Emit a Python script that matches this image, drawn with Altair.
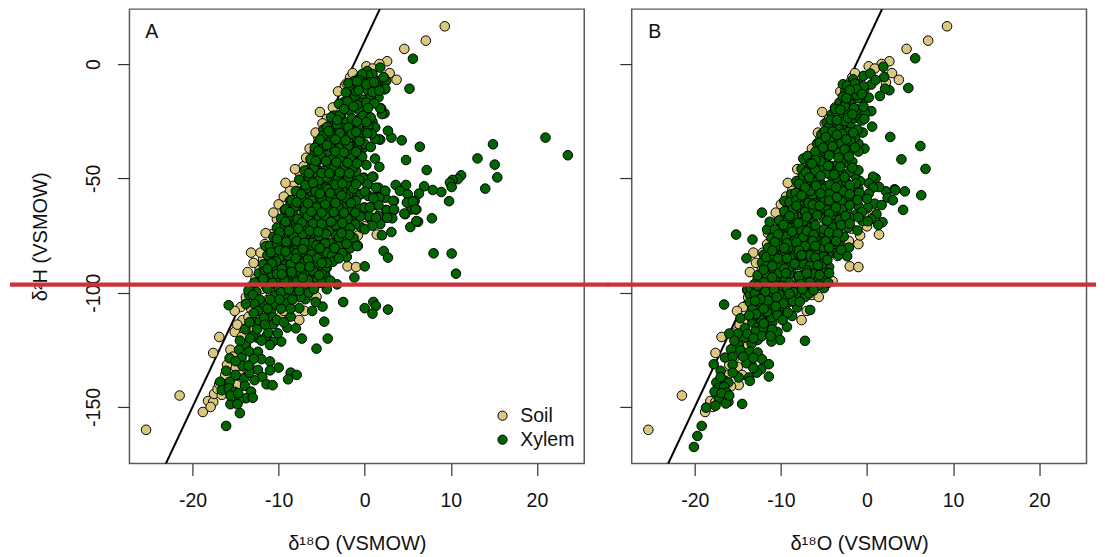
import altair as alt
import pandas as pd

FONT = "Liberation Sans"
X_TICKS = [-20, -10, 0, 10, 20]
Y_TICKS = [-150, -100, -50, 0]
X_DOMAIN = [-27.33, 25.5]
Y_DOMAIN = [-174.7, 24.0]
GMWL_X = [-30, 10]
GMWL_Y = [-230, 90]
X_TITLE = "δ¹⁸O (VSMOW)"
Y_TITLE = "δ²H (VSMOW)"
TYPES = ["Soil", "Xylem"]
COLORS = ["#DBC87F", "#006400"]

soil = [
(-25.4,-160),(-21.5,-145),(9.3,16.5),(7.1,10.2),(4.6,6.6),(2.6,1.2),(2.9,-4),(3.7,-6.9),(0.2,-1),(1.7,0),
(-1.7,-5.8),(-2.3,-9.5),(-2.1,-8.5),(-3.7,-19),(-4.4,-24),(-4.1,-27),(-4.9,-26),(-5.4,-32),(-7.1,-44.7),(-7.5,-48),
(-8.3,-53.3),(-8.7,-55.5),(-10,-61.4),(-9.5,-68.2),(-10.2,-67.9),(-10,-71),(-10.8,-74.5),(-11.6,-78.8),(-10.8,-83),(-13.2,-82.5),
(-11.8,-85.4),(-12.2,-89.7),(-11.6,-92),(-2,-88.5),(-1,-88.8),(1.4,-74.6),(-4.1,-74.5),(-2.8,-80.3),(-2.1,-77.4),(-14.4,-106.3),
(-15.1,-108),(-13.2,-107.1),(-14.2,-112),(-15.1,-117.2),(-16.9,-119.4),(-17.6,-126.4),(-15.6,-125),(-14.3,-119.4),(-13.4,-131.6),(-15,-132.5),
(-16,-131.6),(-18.2,-147.4),(-18.8,-152.2),(-17.6,-147.8),(-17.5,-144.3),(-17.1,-142.1),(-16.6,-144.7),(-14.9,-140.4),(-7.6,-112),(-9.8,-110.6),
(-6.4,-101),(-5.6,-101.9),(-7,-108),(-12,-98.4),(-11.3,-103.2),(-13,-103.2),(-13.3,-97.5),(-13.5,-110.6),(-12.2,-114),(-1,-78.8),
(0,-71),(-0.8,-75),(-12.7,-94),(-13.6,-91),(-12.9,-87),(-12.1,-82.5),(-11.5,-74),(-10.6,-65),(-9.4,-58),(-9.2,-52),
(-8.1,-46),(-6.8,-41),(-6.4,-37),(-5.7,-30),(-5.2,-21),(-3.1,-12),(-1.4,-4),(0.9,-2),(2.2,-8),(-16.2,-136),
(-15.8,-141),(-15.3,-128),(-13.8,-123),(-12.8,-116),(-11.6,-109),(-10.9,-100),(-9.4,-108),(-8.2,-105),(-14.8,-114),(-13.8,-102),
(-17.9,-150),(-16.9,-140),(-14.5,-136),(-3.4,-84),(-1.8,-72),(-5.3,-90),(-7.5,-97),(-4,-95),(-0.4,-66),(0.8,-64),
]

xylem_a = [
(23.6,-39.9),(21,-32.2),(14.9,-35.1),(13.1,-41.3),(15.1,-44),(15.4,-49.6),(14,-54.5),(11.2,-48.7),(10.8,-50.4),(10.2,-50.7),
(9.9,-51.9),(10.1,-53.8),(8.9,-56),(7.9,-55.1),(9.8,-60),(6.9,-53.5),(7.2,-46.4),(6.4,-36.2),(4.8,-42),(4.3,-33.4),
(3.1,-32.2),(2.7,-29.2),(1.8,-33.1),(1.6,-32.9),(5.2,-10.8),(5.6,2.3),(2.3,-21.6),(1.9,-19.4),(1.2,-27.8),(1.2,-41.4),
(1.7,-45),(0.2,-44.2),(4.8,-52.9),(3.6,-52.9),(4.1,-55.5),(5,-57),(6.3,-56.7),(5.8,-59.9),(5,-60.6),(3.4,-59.9),
(6,-63.6),(5.4,-63.6),(4.7,-65.7),(3.4,-63.8),(2.5,-63.8),(3.2,-67.5),(2.6,-67.2),(7.8,-67.5),(6.2,-69),(5.3,-71.3),
(3.1,-73.5),(2,-74.9),(8,-82.8),(10.1,-82.9),(2.2,-81.8),(2.7,-84.7),(10.6,-91.7),(0,-88.5),(-1.2,-93.4),(-3.2,-96.4),
(-2.1,-84.4),(-0.8,-79.6),(2.4,-58.5),(2.3,-55.5),(1.4,-57.7),(1.6,-54.1),(0.4,-57.4),(0.4,-52.6),(1,-49.3),(-0.1,-49.7),
(-1.2,-50.1),(-0.5,-57),(-1.7,-58),(-2.1,-55.5),(-0.1,-62.8),(1.4,-61.7),(0.5,-66.9),(1.6,-66.5),(-0.8,-67.2),(-0.4,-71.6),
(-1.2,-62.1),(-0.7,-42.4),(-0.6,-40.2),(-0.1,-36.6),(-1,-32.2),(-0.1,-28.6),(0.1,-22),(1.4,-14.7),(2.3,-11.1),(2.2,-6),
(1.8,-1.6),(0.8,-4.5),(0.3,-3.1),(-0.4,-9.6),(-1.2,-7.4),(-0.6,-6),(2.5,-7.4),(1.6,-7.4),
(-2.5,-104.1),(1,-104.1),(1.3,-105.8),(0,-106.8),(0.9,-109.2),(2.7,-107.4),(-4.4,-98.5),(-4.9,-106.1),(-6.1,-108),(-5.7,-104.1),
(-6.9,-102.9),(-7.4,-101.9),(-7.6,-106.8),(-4.7,-112.7),(-4.3,-120.1),(-5.6,-124.5),(-7.3,-120.1),(-8.6,-110.5),(-9,-115.3),(-8,-115.6),
(-9.7,-121.4),(-10.7,-121.5),(-11,-122.9),(-11.4,-118.9),(-12.5,-119.7),(-13.9,-122.9),(-14.6,-125),(-13.4,-125.8),(-15.7,-128.7),(-14.3,-128.4),
(-12.4,-125.9),(-12,-129.1),(-11,-130.1),(-10,-132.8),(-12.4,-133.8),(-16.1,-134.2),(-14,-137.4),(-11.9,-136.9),(-12.8,-138.3),(-11.4,-140.1),
(-10.7,-140.5),(-8.6,-135),(-7.9,-136),(-8.9,-137.9),(-16.8,-139),(-15.7,-139),(-16.6,-142.7),(-15.8,-141.8),(-15.1,-143.4),(-13.9,-140.8),
(-13.2,-143.3),(-13.8,-146.2),(-14.6,-147.1),(-15.6,-148.8),(-14.8,-148.8),(-14.5,-152.7),(-16.1,-158.3),(-15.8,-105.5),(-13.4,-101.1),(-11.9,-105.1),
(-10.9,-108.3),(-10.7,-110.9),(-12.9,-112.7),(-12.2,-112.7),(-13.9,-116),(-13,-118.9),(-11.2,-117.5),(-10.6,-113.8),(-10.1,-117.8),(-10.4,-105.1),
(-9.2,-101.9),(-9,-104.6),(-10.4,-101),(-8.1,-99.2),
(-5.4,-34.4),(-4.2,-33.7),(-3.2,-35.9),(-2.3,-35.9),(-1.3,-36.3),(-0.4,-35.1),(-5.8,-38.5),(-4.4,-39.9),(-3.3,-40.2),(-2.4,-41.7),
(-0.5,-39.9),(-4.3,-44.2),(-5.6,-43.1),(-3.2,-45.3),(-2.1,-45.3),(-6,-48.5),(-3.9,-49),(-2.7,-49),(-5.2,-46.8),(-1.2,-49.7),
(-0.2,-50),(0.9,-49.3),(0.3,-52.6),(1.3,-54.1),(2.4,-55.5),(-6.9,-51.5),(-5.4,-52.6),(-4,-52.6),(-2.1,-52.6),(-7.3,-55.5),
(-6.2,-57),(-4.8,-56.6),(-3.6,-57),(-1.9,-57),(-0.5,-57),(0.4,-57.7),(1.7,-58.5),(3.3,-59.9),(4.9,-60.6),(5.6,-60.2),
(-7.5,-62.1),(-6.5,-62.1),(-8.7,-59.9),(-9.3,-63.8),(-5,-61.4),(-3.8,-61.4),(-2.1,-62.8),(-0.9,-62.8),(0,-62.8),(1.6,-61.8),
(2.6,-64),(3.4,-63.6),(4.6,-65.4),(5.9,-63.6),(-8.3,-65),(-6.2,-66.5),(-7.3,-67.6),(-8.7,-68.7),(-4,-65.7),(-2.7,-67.2),
(-1.5,-66.5),(0.5,-66.6),(2.6,-67.2),(1.8,-70.1),(6,-68.7),(-4.5,-70.6),(-6.2,-71.6),(-7.5,-73.8),(-8.5,-70.1),(-9.4,-72.3),
(-3.4,-67.9),(-1.1,-70.1),(0,-72.3),(-2.9,-72.2),(-1.3,-76),(-3.8,-72.3),(-9.4,-76),(-8.5,-76.7),(-6.9,-76),(-6,-74.5),
(-4.9,-77.1),(-4,-78.9),(-1.7,-80.6),(-0.9,-79.6),(-11.5,-79.7),(-8.5,-80.9),(-6.2,-79.6),(-10.2,-82.5),(-9.6,-84),(-7.5,-82.5),
(-5.4,-82.5),(-3.3,-82.8),(-2.1,-84.4),(-4.3,-85.4),(-11.2,-86.9),(-9.4,-87.6),(-10.6,-89.8),(-8.1,-89.4),(-6.4,-92.7),(-4.4,-89.1),
(-4.6,-92),(-9.8,-94.2),(-8.4,-93.1),
(0.9,-4.4),(2.2,-5.8),(2.4,-10.9),(1.6,-14.6),(0.4,-5.1),(-0.3,-4.4),(-0.7,-7),(-0.5,-9.8),(0.4,-11.7),(-1.7,-10.2),
(-1.8,-13.6),(-1.1,-14.1),(-0.1,-15.6),(0.7,-14.6),(-2.5,-16.8),(-1.7,-20.4),(-0.6,-20.4),(0.2,-21.9),(-2.7,-21.9),(-3.6,-22.6),
(-0.6,-24.1),(0.9,-25.2),(1.2,-27.7),(2,-21.9),(1.8,-19.4),(-4.8,-28.7),(-3.1,-29.2),(-2.1,-25.5),(-1.2,-28.7),(0,-28.7),
(-5.4,-34.7),(-4.1,-33.5),(-3.6,-31.3),(-2.7,-33.5),(-1,-32.1),(-1.7,-35.7),(0,-35),(1.2,-32.8),
(-10.7,-89.8),(-9.7,-84),(-8.5,-81),(-7.2,-84.7),(-9.2,-87.6),(-8.1,-89),(-4.5,-89),(-5.9,-89),(-8.4,-93.1),(-10.1,-94.2),
(-4.6,-92.7),(-5,-83.2),(-3.2,-83.2),(-4.1,-73),(-2.4,-75.9),(-6.8,-74.5),(-8.6,-77.4),(-6.1,-78.1),(-3.7,-78.1),(-9.9,-84.7),
(-11.5,-97),(-10,-98),(-8.5,-96),(-7,-97),(-5.5,-96),(-9.3,-92),(-12,-93),(-6.5,-100),
(-8,-70),(-7,-70),(-6,-68),(-5,-68),(-4.8,-73),(-3,-64),(-5.7,-64),(-7,-65),(-8,-62),(-6.8,-59),
(-5.5,-59),(-4.2,-59.5),(-3,-60),(-2.6,-55),(-4.5,-54),(-6,-54),(-4.9,-50),(-5.5,-48.5),(-3.4,-47),(-1,-47),
(-1.5,-42),(-3.6,-37),(-4.8,-36),(-2,-31),(-3.5,-26),(-2.5,-28),(-0.5,-17),(-1,-12),(0.5,-8),(1.3,-9),
(-2,-38),(-5,-41),(-6.4,-46),(-9,-79),(-7.8,-80),(-6.5,-83),(-8.8,-85),(-7.5,-86),(-6,-87),(-5,-78),
(-3,-78),(-2.5,-71),(-3.3,-75),(-9.9,-78),(-10.5,-85),(-11,-92),(-7,-92),(-5.5,-94),
]

xylem_a_dense = [
(-1.9,-8.4),(-0.9,-7.7),(0.2,-8.9),(1.1,-8),(-2.2,-12.5),(-0.7,-11.6),(0.9,-12.3),(1.7,-11.7),(-3,-17.4),(-2,-16.4),
(-0.9,-17.8),(0.2,-16.9),(1.1,-17.2),(-3.9,-23.3),(-2.9,-22.4),(-1.5,-23.8),(-0.2,-22.6),(0.7,-23.4),(-4.4,-27.6),(-3.2,-26.5),
(-1.9,-27.8),(-0.7,-26.7),(0.4,-27.2),(-4.9,-31.5),(-3.9,-30.4),(-2.6,-31.8),(-1.5,-30.6),(-0.4,-31.3),(0.8,-30.5),(-5.8,-36.6),
(-4.4,-35.4),(-3,-36.8),(-1.9,-35.7),(0.7,-36.3),(-6.3,-41.6),(-5.1,-40.4),(-3.8,-41.8),(-2.8,-40.7),(-1.6,-41.3),(-0.3,-40.5),
(-7,-46.6),(-5.9,-45.4),(-4.7,-46.8),(-3.6,-45.7),(-2.5,-46.3),(-1.4,-45.5),(-7.6,-50.6),(-6.5,-49.4),(-5.3,-50.8),(-4.4,-49.7),
(-3.1,-50.3),(-1.9,-49.5),(-0.6,-50.8),(-8,-55.6),(-6.8,-54.4),(-5.7,-55.8),(-4.3,-54.7),(-3.1,-55.3),(-1.3,-54.5),(0,-55.8),
(-8.5,-59.6),(-7.4,-58.4),(-6.2,-59.8),(-5,-58.7),(-3.3,-59.3),(-2.2,-58.5),(-1,-59.8),(1,-58.7),(-9.2,-63.6),(-8.1,-62.4),
(-6.9,-63.8),(-5.6,-62.7),(-4.4,-63.3),(-3.1,-62.5),(-1.5,-63.8),(0.6,-62.7),(-9.7,-67.6),(-8.8,-66.4),(-7.8,-67.8),(-6.6,-66.7),
(-5.3,-67.3),(-4.6,-66.5),(-2,-67.8),(-0.5,-66.7),(1.3,-67.3),(-10.2,-71.6),(-9.3,-70.4),(-8,-71.8),(-6.9,-70.7),(-5.6,-71.3),
(-3.4,-70.5),(-1.7,-71.8),(0.9,-70.7),(-10.6,-75.6),(-9.8,-74.4),(-8.2,-75.8),(-7.2,-74.7),(-5.3,-75.3),(-4.5,-74.5),(-3,-75.8),
(-1.8,-74.7),(-11,-79.6),(-10.2,-78.4),(-9.2,-79.8),(-7.4,-78.7),(-5.6,-79.3),(-4.6,-78.5),(-3,-79.8),(-2.1,-78.7),(-11.3,-83.6),
(-10.9,-82.4),(-8.9,-83.8),(-7.9,-82.7),(-6.2,-83.3),(-4.4,-82.5),(-3.8,-83.8),(-2.6,-82.7),(-11.8,-87.6),(-10.3,-86.4),(-8.6,-87.8),
(-7,-86.7),(-5.4,-87.3),(-3.7,-86.5),(-12.3,-91.6),(-11.6,-90.4),(-10.2,-91.8),(-9,-90.7),(-7.4,-91.3),(-6,-90.5),(-5,-91.8),
(-12.8,-95.6),(-11.6,-94.4),(-10.7,-95.8),(-9.3,-94.7),(-7.9,-95.3),(-6.6,-94.5),(-5,-95.8),(-4,-94.7),(-12.6,-99.6),(-11.3,-98.4),
(-9.7,-99.8),(-8.8,-98.7),(-7.6,-99.3),(-5.9,-98.5),
(-13.5,-99),(-13,-101),(-12.2,-103),(-12.8,-105),(-11.3,-107),(-12.4,-108),(-13.8,-105),(-12.9,-109),(-13.4,-113),(-11.7,-111),
(-10.2,-112),(-9.4,-113),(-11.6,-114),(-12.5,-116),(-9.7,-107),(-8.6,-107),(-8.4,-103),(-9.9,-103),(-11,-103),(-13.3,-120),
(-12,-121),(-14.5,-121),(-14.2,-132),(-12.9,-129),(-13.4,-135),(-11,-134),(-15,-136),(-13,-146),(-15.6,-145),(-14.7,-144),
(-13.5,-132),(-15,-130),
(-1.3,-18.6),(0.4,-19.2),(-2.4,-19.7),(-3.2,-24.5),(-0.9,-25.2),(0.2,-25.4),(-4.2,-29.4),(-2.9,-30.2),(-1,-29.8),(0.3,-30.3),
(-5.2,-33),(-3.4,-33),(-2.2,-33.4),(-0.6,-33.8),(-5.4,-38),(-3.4,-38.2),(-2.4,-38.7),(-1,-38.5),(-5.7,-42.4),(-4.5,-42.5),
(-3.3,-43),(-2,-43.2),(-0.9,-43.5),(-6.5,-47.8),(-5,-47.7),(-4.1,-47.8),(-2.9,-47.5),(-1.8,-47.8),(-6.9,-53),(-6,-52),
(-3.4,-52.8),(-2.6,-52.3),(-1,-52.6),(-7.4,-57),(-5.2,-56.7),(-4,-56.5),(-2.7,-57.5),(-7.9,-60.5),(-6.6,-61),(-4.6,-61.5),
(-3.4,-60.8),(-1.6,-60.8),(-8.7,-64.8),(-6.2,-64.6),(-5,-65),(-3.6,-64.8),(-2.4,-65),(-1.1,-65),(-9.2,-69),(-7.3,-69.4),
(-6,-69.8),(-5,-70),(-3.9,-69),(-2.6,-69.5),(-9.9,-73.6),(-8.8,-73),(-7.7,-72),(-6.4,-73),(-5.4,-73.4),(-2.7,-74),
(-10.2,-76.5),(-9.1,-77.8),(-7.9,-77.5),(-7,-78.2),(-5.2,-80.5),(-3.5,-80.5),(-9.9,-81.5),(-9.2,-82),(-7.2,-81),(-5.5,-85),
(-3,-85),(-10.8,-87.2),(-8,-85),(-6.6,-85.5),(-4.4,-87),(-11.3,-89.5),(-9.6,-89.6),(-7.5,-89),(-6.4,-88.7),(-5,-87),
(-11.8,-94),(-9.6,-92),(-8.5,-91),(-7.2,-93.5),(-5.3,-92.4),
]

xylem_b = [
(5.6,2.5),(4.8,-10.5),(1.9,-1.2),(2,-5.7),(2.6,-11.5),(2.1,-10.8),(1.5,-14),(0.5,-20.6),(0.6,-27.4),(-0.2,-21.7),
(2.7,-31.9),(6.2,-35.9),(4,-41.7),(6.8,-45.9),(-0.3,-37),(-1,-34.8),(6.3,-57.4),(4.4,-55.7),(3.2,-54.8),(3.3,-55.2),
(2.2,-55.7),(2.4,-58.5),(3,-59.6),(4.2,-63.8),(1,-50),(0.7,-49.3),(0.2,-52.2),(1.4,-53.8),(0.7,-54.1),(0.2,-56.7),
(0.9,-61.1),(1.7,-61.7),(0.1,-62.8),(1.1,-65.7),(1.8,-69.2),(1.3,-70.4),(-0.8,-51.2),(-1.4,-48.7),(-1.6,-57.4),(-2.4,-58.9),
(-1,-62.1),(-2.3,-63.8),(-1.2,-65.7),(-0.5,-68.7),(0.5,-67.9),(-2.2,-71.6),(-3.8,-67.9),(-12.2,-65),(-15.2,-74.6),(-13.3,-76.8),
(-14,-85),(-11.6,-72.4),(-11.3,-69),(-9.6,-59.9),(-8.2,-51.2),(-7.6,-45.8),(-7.4,-41.4),(-6.9,-40.2),(-5.8,-34.8),(-5.3,-30.8),
(-4.7,-25.7),(-4.1,-22),(-3.2,-16.9),(-2.5,-11.8),(-2.8,-8.9),(-1.6,-6.7),(-1,-8.9),(-0.4,-5.2),(0.4,-4.2),(-0.3,-11.1),
(-1.8,-14),(-0.3,-15.4),(-1.9,-17.6),(-1.2,-19.8),(-2.3,-20.6),(-3,-23.5),(-1.5,-23.8),(-2.8,-28.6),(-1.8,-27.8),(-3.8,-27.1),
(-4.5,-27.8),(-3.2,-32.9),(-1.4,-32.2),(-2.4,-35.9),(-4.1,-32.2),(-4.9,-35.1),(-2.9,-39.2),(-3.9,-37.3),(-5.9,-40.2),(-4.7,-41),
(-2.4,-43.1),(-4.1,-44.6),(-6.7,-45.3),(-5.3,-45.3),(-2.8,-48.3),(-4.1,-49),(-6.3,-48.3),(-7.4,-49),(-5.5,-51.2),(-6.9,-51.9),
(-3.4,-50.4),(-7.8,-54.8),(-8.8,-57),(-7.2,-59.2),(-5.7,-56.3),(-3.8,-57),(-4.7,-53.4),(-6.3,-58.5),(-5.3,-58.7),(-7.8,-61.7),
(-6.9,-62.8),(-4.7,-63.1),(-3.2,-61.7),(-5.5,-64.3),(-9.2,-64.3),(-8.2,-66),(-6.3,-68.4),(-9.9,-69.4),(-8.8,-69.4),(-7,-70.6),
(-4.6,-70.1),(-3.3,-71.9),(-9.9,-73),(-8,-73.8),(-5.7,-73),(-11.1,-76.2),(-9,-80.6),(-6.6,-79.2),(-5.5,-77.1),(-7.6,-78.9),
(-4.1,-78.1),(-4.3,-82.9),(-3.5,-82.5),(-2.1,-80.3),(-2.3,-84.1),(-4.4,-88.8),(-5.7,-85.4),(-7.6,-85.9),(-8.7,-86.2),(-10.7,-80.6),
(-12,-83.5),(-12.2,-86.9),(-10.1,-84),(-11.1,-86.2),(-10.3,-89.5),(-8.8,-89.8),(-11.1,-90.8),(-7.5,-92.3),(-6.6,-92.7),(-4.9,-94.6),
(-12.2,-94.2),(-9.6,-94.2),(-11.3,-96.4),(-13.9,-99),
(-16.6,-105.2),(-13.9,-98.5),(-13.6,-101),(-13.6,-104.3),(-12.7,-105.4),(-13.3,-107.3),(-11,-104.1),(-11.7,-108),(-10.3,-104.6),(-10.8,-100.7),
(-9.6,-101.4),(-7.9,-101.1),(-7.2,-101.9),(-8.1,-106.5),(-6.6,-107.6),(-9.6,-109.7),(-8.7,-110.2),(-9.3,-115),(-11,-113.1),(-11.1,-110.9),
(-12.2,-110.9),(-14.7,-111.2),(-13.3,-113.1),(-14.2,-115.6),(-12.7,-115),(-15,-117.9),(-16,-117.9),(-11.7,-117.8),(-10.4,-117.2),(-10.1,-120.7),
(-7.2,-121.1),(-11.1,-121.4),(-12.7,-120.7),(-14.1,-119.7),(-13.4,-122.3),(-14.9,-122.9),(-15.8,-124.8),(-14.7,-125.2),(-13.6,-125.8),(-12.7,-126.2),
(-16.5,-128.4),(-15.6,-128.1),(-12.2,-129.1),(-11.4,-131.3),(-14,-130.9),(-17.8,-131.3),(-17,-134.2),(-12.3,-133.5),(-12.8,-135),(-14.9,-137.1),
(-13.7,-137.1),(-13.6,-138.6),(-11.4,-136.7),(-17.5,-139.3),(-16.5,-138.6),(-16.1,-139.3),(-17.3,-141.8),(-16.6,-141.2),(-17.7,-143.3),(-16.3,-143.7),
(-17.2,-146.6),(-16.1,-147.8),(-16.4,-148.5),(-17.6,-149.5),(-18.7,-150.3),(-14.5,-148.7),(-19.2,-158.3),(-19.7,-162.7),(-20.1,-167.5),
(-12.5,-101),(-11.8,-103),(-12.3,-112),(-11.5,-106),(-9,-104),(-10,-106),(-10.6,-108),(-12.1,-115.5),(-13,-110),(-11,-116),
(-13,-117),(-13.5,-98),
(-10,-77),(-9,-75),(-7,-76),(-6,-76),(-5,-74),(-4.5,-76),(-9.5,-83),(-8.3,-83),(-7,-83),(-6,-82),
(-5,-82),(-10.6,-87),(-9.4,-87),(-8,-88),(-7,-88),(-6,-89),(-5.2,-90),(-9,-92),(-8,-93),(-10.5,-93),
(-11.8,-92),(-7,-96),(-8.5,-97),(-10,-97),(-6,-96),(-5,-98),(-9.5,-71),(-8.5,-71.5),(-7.5,-66),(-6.5,-65.5),
(-5,-67),(-4,-66),(-3,-67),(-6,-61),(-5,-60),(-4,-60.5),(-3.2,-55),(-5,-54.5),(-6.2,-54),(-3,-53),
(-1,-54.5),(-2,-60),(0,-59),(-3,-42),(-5,-38),(-3.5,-35),(-2,-30),(-0.5,-30),(-0.8,-24),(-2.6,-25),
(-3.6,-21),(-2.5,-17),(-1,-15),(0.5,-9),(1,-7),(-1.8,-9.5),
]

xylem_b_dense = [
(-2.3,-9.4),(-1.4,-8.5),(-0.4,-9.8),(-2.8,-14.3),(-1.2,-13.5),(0.2,-14.7),(-3.7,-19.6),(-2.6,-18.5),(-1.5,-19.3),(-0.4,-18.7),
(-4.2,-24.4),(-2.2,-23.5),(-0.6,-24.7),(-4.9,-29.4),(-3.3,-28.5),(-2.2,-29.8),(-1.1,-28.7),(-5.5,-34.4),(-4.3,-33.5),(-3,-34.8),
(-1.9,-33.7),(-6,-38.4),(-4.7,-37.5),(-3.3,-38.8),(-1.9,-37.7),(-1,-38.3),(-6.6,-43.4),(-5.4,-42.5),(-3.4,-43.8),(-1.7,-42.7),
(-7.1,-47.4),(-6,-46.5),(-4.7,-47.8),(-3.4,-46.7),(-2,-47.3),(-1,-46.5),(-7.9,-52.4),(-5.9,-51.5),(-4.3,-52.8),(-2.4,-51.7),
(-1.3,-52.3),(-8.3,-56.4),(-6.6,-55.5),(-4.4,-56.8),(-2.8,-55.7),(-0.9,-56.3),(-9,-60.4),(-8.2,-59.5),(-6.8,-60.8),(-4.4,-59.7),
(-2.9,-60.3),(-1.1,-59.5),(-9.6,-64.4),(-8.6,-63.5),(-7.2,-64.8),(-6.2,-63.7),(-3.9,-64.3),(-2.9,-63.5),(-0.6,-64.8),(-10.2,-68.4),
(-9.2,-67.5),(-7.4,-68.8),(-5,-67.7),(-3.2,-68.3),(-1.9,-67.5),(0.1,-68.8),(-10.7,-72.4),(-9.2,-71.5),(-7.6,-72.8),(-6.6,-71.7),
(-5,-72.3),(-4,-71.5),(-1.1,-72.8),(-10.4,-76.4),(-9.4,-75.5),(-8.3,-76.8),(-7.4,-75.7),(-3.3,-76.3),(-2.7,-75.5),(-11.5,-80.4),
(-10.2,-79.5),(-8.1,-80.8),(-7.2,-79.7),(-5,-80.3),(-3.2,-79.5),(-11.7,-84.4),(-10.8,-83.5),(-8.9,-84.8),(-6.6,-83.7),(-5,-84.3),
(-3.3,-83.5),(-11.7,-88.4),(-10.1,-87.5),(-9,-88.8),(-7.3,-87.7),(-6.6,-88.3),(-5.2,-87.5),(-12.7,-92.4),(-10.2,-91.5),(-7.9,-92.8),
(-6.3,-91.7),(-5.5,-92.3),(-4.4,-91.5),(-13.1,-96.4),(-12,-95.5),(-10.7,-96.8),(-9,-95.7),(-7.7,-96.3),(-6.6,-95.5),(-5.6,-96.8),
(-4.5,-95.7),(-13,-100.4),(-11.8,-99.5),(-10.2,-100.8),(-8.6,-99.7),(-6.7,-100.3),(-12.3,-104.4),(-11.5,-103.5),(-9.7,-104.8),(-8.6,-103.7),
(-12.9,-109.4),(-11.6,-108.5),(-10.4,-109.8),(-9.2,-108.7),
(-1.2,-11),(-2,-11.5),(-0.6,-13.2),(-2.4,-15),(-3.1,-20),(-1.7,-22),(-0.3,-24),(-3.5,-24.6),(-4,-29.5),(-2.9,-30.6),
(-1.6,-30),(-4.8,-32),(-3.5,-31),(-2.4,-33),(-5.1,-36.6),(-4,-36),(-2.6,-37.4),(-1.4,-36.5),(-6,-42),(-4.4,-40),
(-3.3,-41),(-2.1,-40.5),(-6.4,-43.6),(-4.5,-44.6),(-3.1,-45),(-1.7,-45.3),(-6.7,-49.7),(-5.4,-49),(-3.8,-48.4),(-2.6,-49.5),
(-7.2,-54),(-5.9,-53.3),(-3.6,-54),(-2,-53),(-7.6,-57.5),(-5.4,-56.6),(-3.5,-58.3),(-2,-57),(-8.2,-62),(-6.3,-61.5),
(-5.5,-62),(-3.6,-62.7),(-2,-61.8),(-9,-66.5),(-7,-66.8),(-5.8,-66.2),(-4.4,-65.6),(-2.5,-66.5),(-1,-67),(-9.7,-70.4),
(-8,-69.5),(-6,-70.5),(-4.6,-68.5),(-3,-70.5),(-2,-69.8),(-10.3,-74.5),(-8.7,-73.4),(-7,-73),(-6.2,-74.7),(-4.4,-73.7),
(-3.4,-74.2),(-10.7,-78),(-9.3,-78.4),(-8.2,-78),(-6.3,-77.4),(-4.8,-77.6),(-3.6,-77.5),(-11,-81.6),(-9.6,-80.5),(-7.9,-81.5),
(-6,-79.6),(-4.4,-80.4),(-3,-81.3),(-10.3,-85),(-9.3,-85),(-7.6,-83.6),(-6,-84.7),(-4.6,-85.6),(-11,-88.4),(-9.6,-89.5),
(-8.4,-87.4),(-7,-90.3),(-5.7,-88),(-12,-90),(-11,-93.3),(-9.4,-91.5),(-7,-91.5),(-12.7,-97),(-10.8,-98.5),(-9.3,-97.8),
(-7.5,-98.5),(-6.2,-99),(-12.4,-102.8),(-10.5,-102),(-9,-100.5),(-7.8,-104),(-13,-103.5),(-12,-107),(-10.6,-106),(-9.8,-112),
(-12,-113.5),(-13.7,-110),(-13.9,-118),(-12.2,-119),(-11.2,-119),(-13.2,-120),(-15.4,-121),(-14.4,-128),(-13.2,-128.5),(-15.6,-131.5),
(-13.2,-133),(-16.9,-144),(-16,-145),(-17,-137),(-15.6,-135),
]


def table(*xylem):
    rows = [{"d18O": x, "d2H": y, "Type": "Soil"} for x, y in soil]
    for group in xylem:
        rows += [{"d18O": x, "d2H": y, "Type": "Xylem"} for x, y in group]
    return pd.DataFrame(rows)


LABEL_EXPR = "'' + datum.value"


def panel(xylem, letter, letter_x, show_y, legend, red_left, red_right):
    x_enc = alt.X("d18O:Q", scale=alt.Scale(domain=X_DOMAIN, nice=False, zero=False),
                  axis=alt.Axis(values=X_TICKS, title=X_TITLE, grid=False, domain=False, tickSize=12,
                                tickColor="#333333", tickWidth=1.2, labelFontSize=19.5, labelColor="#111111",
                                labelPadding=16, titleFontSize=20, titleFontWeight="normal", titleColor="#111111",
                                titlePadding=24, labelFont=FONT, titleFont=FONT, labelExpr=LABEL_EXPR))
    y_enc = alt.Y("d2H:Q", scale=alt.Scale(domain=Y_DOMAIN, nice=False, zero=False),
                  axis=alt.Axis(values=Y_TICKS, title=Y_TITLE if show_y else None, grid=False, domain=False,
                                tickSize=12, tickColor="#333333", tickWidth=1.2, labels=show_y,
                                labelAngle=270, labelAlign="center", labelBaseline="bottom",
                                labelFontSize=19.5, labelColor="#111111", labelPadding=14,
                                titleFontSize=20, titleFontWeight="normal", titleColor="#111111",
                                titlePadding=33, labelFont=FONT, titleFont=FONT, labelExpr=LABEL_EXPR))
    line = alt.Chart(pd.DataFrame({"d18O": GMWL_X, "d2H": GMWL_Y})).mark_line(
        color="#000000", strokeWidth=2, clip=True).encode(x=x_enc, y=y_enc)
    pts = alt.Chart(table(*xylem)).mark_circle(size=92, stroke="#000000", strokeWidth=1, opacity=1).encode(
        x=alt.X("d18O:Q"), y=alt.Y("d2H:Q"),
        fill=alt.Fill("Type:N", scale=alt.Scale(domain=TYPES, range=COLORS), legend=legend))
    label = alt.Chart(pd.DataFrame({"d18O": [letter_x], "d2H": [14.0], "t": [letter]})).mark_text(
        align="left", baseline="middle", fontSize=19.5, font=FONT, color="#111111").encode(
        x=alt.X("d18O:Q"), y=alt.Y("d2H:Q"), text="t:N")
    red = alt.Chart(pd.DataFrame({"a": [0]})).mark_rect(color="#CC3338", opacity=1).encode(
        x=alt.value(red_left), x2=alt.value(red_right), y=alt.value(273.4), y2=alt.value(277.7))
    return alt.layer(line, pts, label, red).properties(width=455, height=454.5)


legend_a = alt.Legend(orient="none", legendX=363.5, legendY=397, title=None, padding=0, labelFont=FONT,
                      labelFontSize=19.5, labelColor="#111111", symbolSize=85, symbolStrokeColor="#000000",
                      symbolStrokeWidth=1, labelOffset=8, rowPadding=3, symbolType="circle")

left = panel((xylem_a, xylem_a_dense), "A", -25.5, True, legend_a, -119.5, 479.25)
right = panel((xylem_b, xylem_b_dense), "B", -25.4, False, None, -24.25, 464.5)

chart = alt.hconcat(left, right, spacing=-2.5).resolve_scale(fill="independent").resolve_legend(fill="independent").properties(
    padding={"left": 0.5, "top": 0, "right": 0, "bottom": 0}
).configure_view(stroke="#5a5a5a", strokeWidth=1.5)

chart.save("out.html", embed_options={"renderer": "svg", "actions": False})
